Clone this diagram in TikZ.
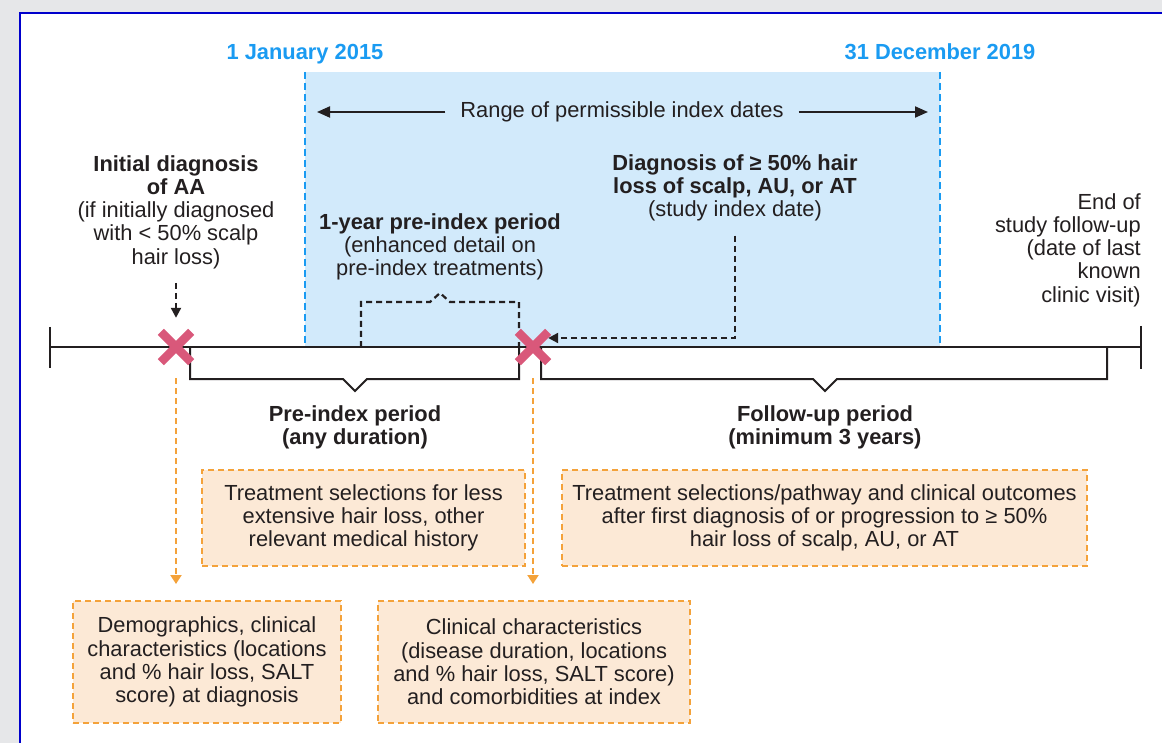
\documentclass[tikz,border=0pt]{standalone}
\usepackage{xcolor}
\usepackage{fontspec}
\setmainfont{Liberation Sans}
\usepackage{tikz}
\usetikzlibrary{arrows.meta,positioning}
\definecolor{bgray}{HTML}{E6E7E9}
\definecolor{frameblue}{HTML}{0000CC}
\definecolor{dateblue}{HTML}{1A9BF2}
\definecolor{rangefill}{HTML}{D2EAFB}
\definecolor{boxfill}{HTML}{FCE9D6}
\definecolor{boxline}{HTML}{F4A23A}
\definecolor{xred}{HTML}{D9587A}
\definecolor{txt}{HTML}{231F20}
\newcommand{\mainsize}{\fontsize{21.85}{23.3}\selectfont}
\tikzstyle{lbl} = [align=center, font=\mainsize, text=txt, inner sep=0pt]
\tikzstyle{datelbl} = [font=\mainsize\bfseries, text=dateblue, inner sep=0pt, anchor=base]
\tikzstyle{infobox} = [draw=boxline, line width=2pt, dash pattern=on 6pt off 4pt, fill=boxfill, rectangle, inner sep=0pt, align=center, font=\mainsize, text=txt]
\tikzstyle{xmark} = [minimum size=30pt, inner sep=0pt]
\tikzstyle{xcross} = [draw=xred, line width=8.5pt]
\tikzstyle{tline} = [draw=txt, line width=2pt]
\tikzstyle{bluedash} = [draw=dateblue, line width=2.5pt, dash pattern=on 7pt off 4pt]
\tikzstyle{dashln} = [draw=txt, line width=2.2pt, dash pattern=on 6pt off 4pt]
\tikzstyle{arr} = [draw=txt, line width=2pt, -{Triangle[length=13pt,width=11pt]}]
\tikzstyle{dasharr} = [dashln, -{Triangle[length=10pt,width=10pt]}]
\tikzstyle{orarr} = [draw=boxline, line width=2pt, dash pattern=on 6pt off 4pt, -{Triangle[length=9pt,width=11pt]}]

\begin{document}
\begin{tikzpicture}[x=1pt,y=-1pt]
	\useasboundingbox (0,0) rectangle (1162,743);
	\fill[bgray] (0,0) rectangle (1162,743);
	\filldraw[fill=white, draw=frameblue, line width=2.5pt] (20,13) rectangle (1180,760);

	% window of index dates
	\coordinate (jan) at (305,72);
	\coordinate (dec) at (940,72);
	\coordinate (tstart) at (50,347);
	\coordinate (tend) at (1141,347);
	\fill[rangefill] (jan) rectangle (dec |- tstart);
	\draw[bluedash] (jan) -- (jan |- tstart);
	\draw[bluedash] (dec) -- (dec |- tstart);
	\node[datelbl] (startdate) at ([yshift=12.5pt]jan) {1 January 2015};
	\node[datelbl] (enddate) at ([yshift=12.5pt]dec) {31 December 2019};
	\node[lbl, inner xsep=15pt] (range) at (622,112) {Range of permissible index dates};
	\coordinate (rangeL) at (317,112);
	\coordinate (rangeR) at (928,112);
	\draw[arr] (range.west) -- (rangeL);
	\draw[arr] (range.east) -- (rangeR);

	% timeline
	\draw[tline] (tstart) -- (tend);
	\draw[tline] ([yshift=20pt]tstart) -- ([yshift=-21pt]tstart);
	\draw[tline] ([yshift=21pt]tend) -- ([yshift=-22pt]tend);
	\draw[tline] (190,347) |- (343,379) -- (355,391) -- (367,379) -| (519,347);
	\draw[tline] (541,347) |- (813,379) -- (825,391) -- (837,379) -| (1107,347);
	\draw[dashln] (361,347) |- (430,302) -- (440,293) -- (450,302) -| (519,347);

	\node[xmark] (xdiag) at (176,347) {};
	\node[xmark] (xindex) at (533,347) {};
	\foreach \n in {xdiag,xindex}
		\draw[xcross] (\n.north west) -- (\n.south east) (\n.north east) -- (\n.south west);

	% labels
	\node[lbl] (initdx) at (176,212) {\textbf{Initial diagnosis}\\\textbf{of AA}\\(if initially diagnosed\\with < 50\% scalp\\hair loss)};
	\node[lbl] (preyear) at (440,247) {\textbf{1-year pre-index period}\\(enhanced detail on\\pre-index treatments)};
	\node[lbl] (idxdate) at (735,188) {\textbf{Diagnosis of ≥ 50\% hair}\\\textbf{loss of scalp, AU, or AT}\\(study index date)};
	\node[lbl, align=right, anchor=east] (studyend) at (1141,250) {End of\\study follow-up\\(date of last\\known\\clinic visit)};
	\node[lbl] (preper) at (355,427) {\textbf{Pre-index period}\\\textbf{(any duration)}};
	\node[lbl] (fuper) at (825,427) {\textbf{Follow-up period}\\\textbf{(minimum 3 years)}};

	\draw[dasharr, shorten <=14pt, shorten >=14pt] (initdx.south) -- (xdiag.north);
	\draw[dasharr, shorten <=14pt] (idxdate.south) |- ([yshift=9pt]xindex.east);

	% boxes
	\node[infobox, minimum width=323pt, minimum height=96pt] (txpre) at (363.5,518) {Treatment selections for less\\extensive hair loss, other\\relevant medical history};
	\node[infobox, minimum width=525pt, minimum height=96pt] (txfu) at (824.5,518) {Treatment selections/pathway and clinical outcomes\\after first diagnosis of or progression to ≥ 50\%\\hair loss of scalp, AU, or AT};
	\node[infobox, minimum width=268pt, minimum height=122pt] (demo) at (207,662) {Demographics, clinical\\characteristics (locations\\and \% hair loss, SALT\\score) at diagnosis};
	\node[infobox, minimum width=312pt, minimum height=122pt] (clin) at (534,662) {Clinical characteristics\\(disease duration, locations\\and \% hair loss, SALT score)\\and comorbidities at index};

	\draw[orarr, shorten <=16pt, shorten >=16pt] (xdiag.south) -- (xdiag.south |- demo.north);
	\draw[orarr, shorten <=16pt, shorten >=16pt] (xindex.south) -- (xindex.south |- clin.north);
\end{tikzpicture}
\end{document}
